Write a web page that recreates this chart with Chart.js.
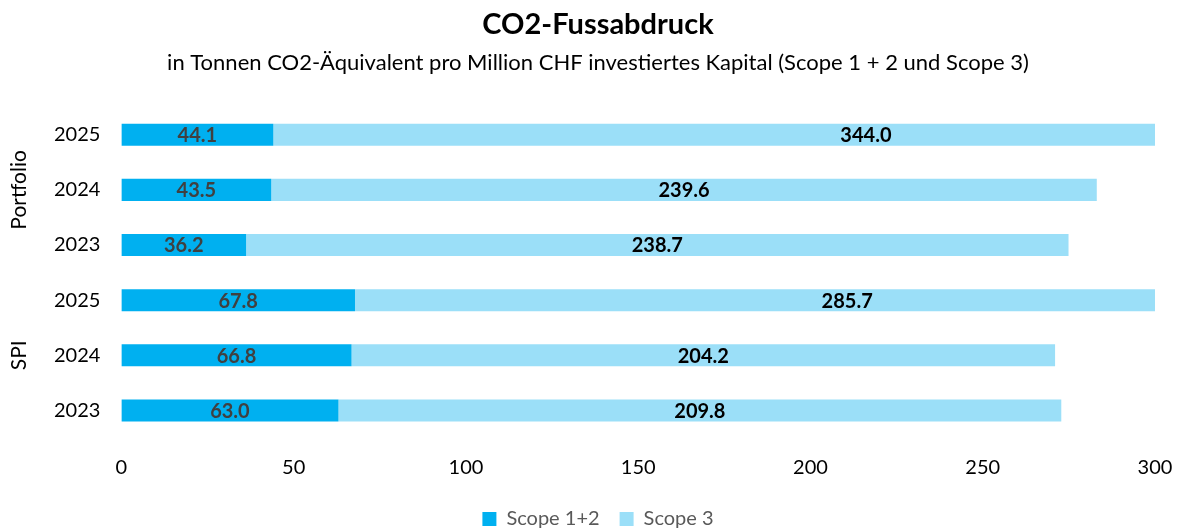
<!DOCTYPE html>
<html>
<head>
<meta charset="utf-8">
<script src="https://cdn.jsdelivr.net/npm/chart.js@4"></script>
<style>
  html, body { margin: 0; padding: 0; background: #fff; }
  #wrap { width: 1177px; height: 529px; position: relative; }
</style>
</head>
<body>
<div id="wrap"><canvas id="co2-chart"></canvas></div>
<script>
// categories (top to bottom)
const years = ['2025', '2024', '2023', '2025', '2024', '2023'];
const groups = ['Portfolio', 'SPI'];
const groupSize = 3;

// series values
const scope12 = [44.1, 43.5, 36.2, 67.8, 66.8, 63.0];
const scope3 = [344.0, 239.6, 238.7, 285.7, 204.2, 209.8];

// x axis ticks
const xTicks = [0, 50, 100, 150, 200, 250, 300];

const FONT = 'Lato, "Open Sans", sans-serif';

// value labels centred on each (unclipped) segment
const segmentLabels = {
    id: 'segmentLabels',
    afterDatasetsDraw(chart) {
        const ctx = chart.ctx;
        const xScale = chart.scales.x;
        ctx.save();
        ctx.font = 'bold 20px ' + FONT;
        ctx.textAlign = 'center';
        ctx.textBaseline = 'middle';
        chart.data.datasets.forEach(function(ds, di) {
            const meta = chart.getDatasetMeta(di);
            meta.data.forEach(function(bar, i) {
                const base = di === 0 ? 0 : scope12[i];
                const x0 = xScale.getPixelForValue(base);
                const x1 = xScale.getPixelForValue(base + ds.data[i]);
                ctx.fillStyle = di === 0 ? '#404040' : '#000000';
                ctx.fillText(ds.data[i].toFixed(1), (x0 + x1) / 2, bar.y + 1);
            });
        });
        ctx.restore();
    }
};

// rotated group names left of the year labels
const groupLabels = {
    id: 'groupLabels',
    afterDraw(chart) {
        const ctx = chart.ctx;
        const yScale = chart.scales.y;
        ctx.save();
        ctx.font = '21px ' + FONT;
        ctx.fillStyle = '#000000';
        ctx.textAlign = 'center';
        ctx.textBaseline = 'middle';
        groups.forEach(function(name, g) {
            const mid = yScale.getPixelForValue(g * groupSize + 1);
            ctx.save();
            ctx.translate(19, mid);
            ctx.rotate(-Math.PI / 2);
            ctx.fillText(name, 0, 0);
            ctx.restore();
        });
        ctx.restore();
    }
};

// wide spacing between legend items but a shorter legend box
const legendFit = {
    id: 'legendFit',
    beforeLayout(chart) {
        const legend = chart.legend;
        if (legend && !legend._fitPatched) {
            const origFit = legend.fit;
            legend.fit = function() {
                origFit.call(this);
                this.height -= 10;
            };
            legend._fitPatched = true;
        }
    }
};

const ctx = document.getElementById('co2-chart').getContext('2d');
new Chart(ctx, {
    type: 'bar',
    data: {
        labels: years,
        datasets: [{
            label: 'Scope 1+2',
            data: scope12,
            backgroundColor: '#00B0F0',
            barPercentage: 0.8,
            categoryPercentage: 0.5
        }, {
            label: 'Scope 3',
            data: scope3,
            backgroundColor: '#9BDFF8',
            barPercentage: 0.8,
            categoryPercentage: 0.5
        }]
    },
    options: {
        indexAxis: 'y',
        responsive: true,
        maintainAspectRatio: false,
        animation: false,
        layout: { padding: { left: 41, right: 22, top: 0, bottom: 0 } },
        scales: {
            x: {
                stacked: true,
                min: 0,
                max: 300,
                afterBuildTicks(axis) { axis.ticks = xTicks.map(v => ({ value: v })); },
                afterFit(axis) {
                    axis.height -= 1;
                    axis.paddingRight = 0;
                },
                grid: { display: false },
                border: { display: false },
                ticks: { color: '#000000', font: { family: FONT, size: 20 }, padding: 10 }
            },
            y: {
                stacked: true,
                grid: { display: false },
                border: { display: false },
                ticks: { color: '#000000', font: { family: FONT, size: 20 }, padding: 13 }
            }
        },
        plugins: {
            title: {
                display: true,
                text: 'CO2-Fussabdruck',
                color: '#000000',
                font: { family: FONT, size: 29, weight: 'bold' },
                padding: { top: 7, bottom: 8 }
            },
            subtitle: {
                display: true,
                text: 'in Tonnen CO2-Äquivalent pro Million CHF investiertes Kapital (Scope 1 + 2 und Scope 3)',
                color: '#000000',
                font: { family: FONT, size: 22 },
                padding: { bottom: 31 }
            },
            legend: {
                position: 'bottom',
                labels: {
                    color: '#595959',
                    boxWidth: 14,
                    boxHeight: 14,
                    padding: 20,
                    font: { family: FONT, size: 20 }
                }
            },
            tooltip: { enabled: false }
        }
    },
    plugins: [segmentLabels, groupLabels, legendFit]
});
</script>
</body>
</html>
